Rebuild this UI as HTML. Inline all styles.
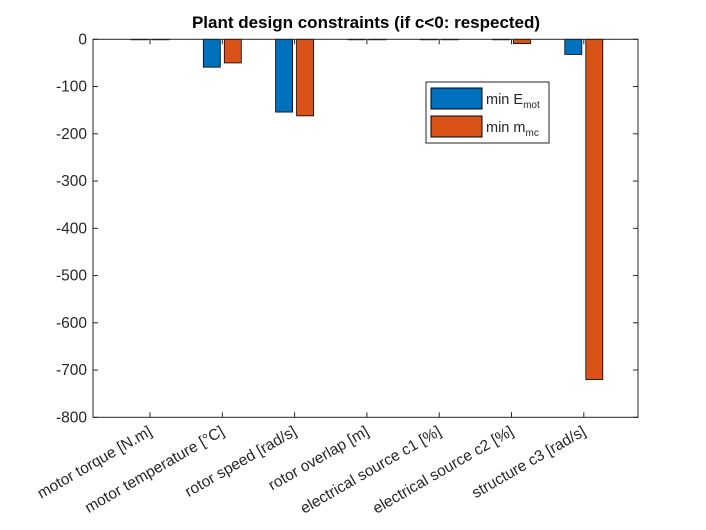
<!DOCTYPE html>
<html><head><meta charset="utf-8"><style>
body{margin:0;background:#fff;}
svg{display:block;font-family:"Liberation Sans",Arial,sans-serif;}
</style></head><body>
<svg id="chart" width="706" height="530">
<rect width="706" height="530" fill="#fff"/>
<text x="366" y="28" text-anchor="middle" font-size="17" font-weight="bold" fill="#000">Plant design constraints (if c&lt;0: respected)</text>
<g id="bars"></g>
<g id="axes"></g>
<g>
<rect x="426" y="82" width="123" height="61" fill="#fff" stroke="#262626" stroke-width="1"/>
<rect x="431" y="88" width="51" height="21" fill="#0072BD" stroke="#000"/>
<text x="486" y="104" font-size="14.5" fill="#262626">min E<tspan font-size="10" dy="4">mot</tspan></text>
<rect x="431" y="116" width="51" height="21" fill="#D95319" stroke="#000"/>
<text x="486" y="132" font-size="14.5" fill="#262626">min m<tspan font-size="10" dy="4">mc</tspan></text>
</g>
</svg>
<script>
const categories=["motor torque [N.m]","motor temperature [°C]","rotor speed [rad/s]","rotor overlap [m]","electrical source c1 [%]","electrical source c2 [%]","structure c3 [rad/s]"];
const seriesEmot=[-1,-59,-154,0,-1,-1,-32];
const seriesMmc=[0,-50,-162,0,0,-9,-720];
const yTicks=[0,-100,-200,-300,-400,-500,-600,-700,-800];
const NS="http://www.w3.org/2000/svg";
const L=93,R=638,T=39.3,B=417.3;
function xs(i){return 150+i*72.3;}
function ys(v){return T+(0-v)/800*(B-T);}
function mk(tag,attrs,parent){const e=document.createElementNS(NS,tag);for(const k in attrs)e.setAttribute(k,attrs[k]);parent.appendChild(e);return e;}
const bars=document.getElementById('bars'),axes=document.getElementById('axes');
const bw=17;
[[seriesEmot,"#0072BD",-10.5,"emot"],[seriesMmc,"#D95319",10.5,"mmc"]].forEach(([s,c,off,nm])=>{
 s.forEach((v,i)=>{
  const y0=ys(0),y1=ys(v);
  const r=mk('rect',{x:xs(i)+off-bw/2,y:Math.min(y0,y1),width:bw,height:Math.max(Math.abs(y1-y0),0.5),fill:c,stroke:'#000','stroke-width':0.8},bars);
  
  
 });
});
const box=mk('rect',{x:L,y:T,width:R-L,height:B-T,fill:'none',stroke:'#262626','stroke-width':1},axes);


yTicks.forEach(v=>{
 const y=ys(v);
 mk('line',{x1:L,x2:L+5,y1:y,y2:y,stroke:'#262626'},axes);
 mk('line',{x1:R,x2:R-5,y1:y,y2:y,stroke:'#262626'},axes);
 const t=mk('text',{x:L-6,y:y+5,'text-anchor':'end','font-size':15.5,fill:'#262626'},axes);
 t.textContent=v;
 
 
});
categories.forEach((c,i)=>{
 const x=xs(i);
 mk('line',{x1:x,x2:x,y1:B,y2:B-5,stroke:'#262626'},axes);
 mk('line',{x1:x,x2:x,y1:T,y2:T+5,stroke:'#262626'},axes);
 const t=mk('text',{x:x+3,y:B+17,'text-anchor':'end','font-size':15.5,fill:'#262626',transform:`rotate(-30 ${x+3} ${B+17})`},axes);
 t.textContent=c;
 
 
});
</script>
</body></html>
